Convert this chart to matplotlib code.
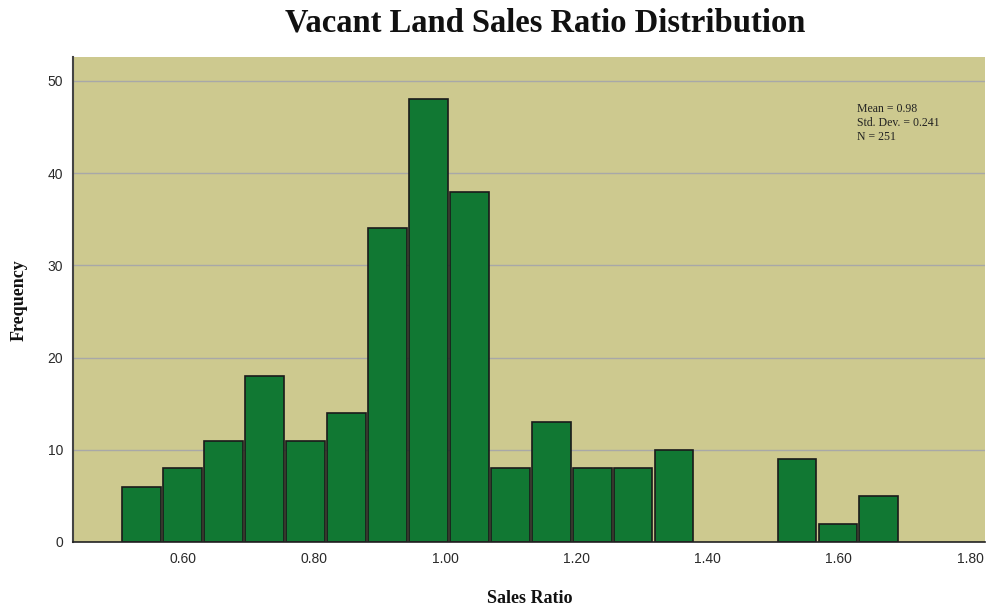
import numpy as np
import matplotlib.pyplot as plt

# histogram data
bin_start = 0.505
bin_width = 0.0625
counts = [6, 8, 11, 18, 11, 14, 34, 48, 38, 8, 13, 8, 8, 10, 0, 0, 9, 2, 5]
x_ticks = [0.60, 0.80, 1.00, 1.20, 1.40, 1.60, 1.80]
y_ticks = [0, 10, 20, 30, 40, 50]
stats_text = "Mean = 0.98\nStd. Dev. = 0.241\nN = 251"

bg_color = '#cdc98f'
bar_color = '#117833'

lefts = bin_start + bin_width * np.arange(len(counts))

fig = plt.figure(figsize=(9.9, 6.12), dpi=100)
ax = fig.add_axes([0.0737, 0.1144, 0.9213, 0.7925])
ax.set_facecolor(bg_color)

# empty bins get no outline
edge_widths = [1.2 if c > 0 else 0 for c in counts]
ax.bar(lefts + bin_width * 0.025, counts, width=bin_width * 0.95, align='edge',
       color=bar_color, edgecolor='#1a1a1a', linewidth=edge_widths, zorder=3)

ax.set_xlim(0.4323, 1.823)
ax.set_ylim(0, 52.6)
ax.set_xticks(x_ticks)
ax.set_xticklabels([f"{t:.2f}" for t in x_ticks])
ax.set_yticks(y_ticks)
ax.tick_params(length=0, labelsize=10, labelcolor='#2a2a2a', pad=7,
               labelfontfamily='Liberation Sans')
ax.yaxis.grid(True, color='#a8a8a8', linewidth=1.0, zorder=1)

for side in ['top', 'right']:
    ax.spines[side].set_visible(False)
ax.spines['left'].set_color('#444444')
ax.spines['left'].set_linewidth(1.5)
ax.spines['bottom'].set_color('#222222')
ax.spines['bottom'].set_linewidth(1.2)
ax.spines['left'].set_zorder(4)
ax.spines['bottom'].set_zorder(4)

fig.text(0.551, 0.962, "Vacant Land Sales Ratio Distribution", ha='center', va='center',
         fontsize=23.5, fontweight='bold', family='Liberation Serif', color='#111111')
fig.text(0.535, 0.022, "Sales Ratio", ha='center', va='center',
         fontsize=13, fontweight='bold', family='Liberation Serif', color='#111111')
fig.text(0.019, 0.51, "Frequency", ha='center', va='center', rotation=90,
         fontsize=13, fontweight='bold', family='Liberation Serif', color='#111111')

ax.text(0.8596, 0.905, stats_text, transform=ax.transAxes, ha='left', va='top',
        fontsize=8.5, family='Liberation Serif', color='#222222', linespacing=1.2)

plt.savefig('out.png', dpi=100)
